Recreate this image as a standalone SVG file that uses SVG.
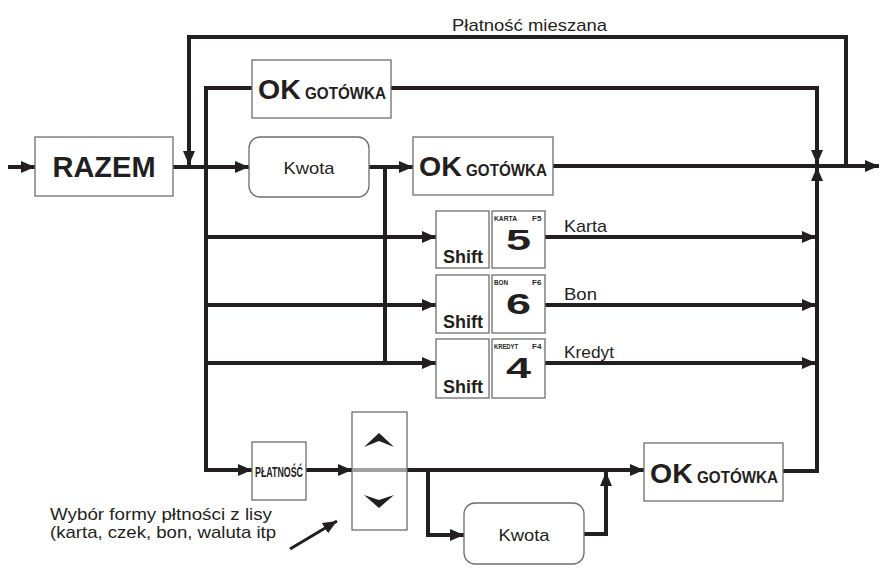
<svg xmlns="http://www.w3.org/2000/svg" width="880" height="571" viewBox="0 0 880 571">
<style>
.box{fill:#fff;stroke:#6d6d6d;stroke-width:1.3}
.ln{fill:none;stroke:#231f20;stroke-width:4}
.lnt{fill:none;stroke:#231f20;stroke-width:3}
.t{font-family:"Liberation Sans",Arial,sans-serif;fill:#231f20}
.b{font-weight:bold}
.ok{font-size:28.5px;font-weight:bold}
.gt{font-size:16.5px;font-weight:bold}
.sm{font-size:8px;font-weight:bold}
</style>
<defs>
<marker id="ah" viewBox="0 0 14 12" refX="14" refY="6" markerWidth="14" markerHeight="12" markerUnits="userSpaceOnUse" orient="auto">
<path d="M0,0 L14,6 L0,12 z" fill="#231f20"/>
</marker>
</defs>
<rect width="880" height="571" fill="#fff"/>
<g id="connectors">
<line class="ln" x1="8" y1="167" x2="35" y2="167" marker-end="url(#ah)"/>
<line class="ln" x1="173" y1="167" x2="249" y2="167" marker-end="url(#ah)"/>
<polyline class="ln" points="846,166 846,37 189,37 189,165" marker-end="url(#ah)"/>
<polyline class="ln" points="252,88 206,88 206,470 252,470" marker-end="url(#ah)"/>
<polyline class="ln" points="391,88 817,88 817,164" marker-end="url(#ah)"/>
<line class="ln" x1="369" y1="167" x2="413" y2="167" marker-end="url(#ah)"/>
<line class="ln" x1="553" y1="166" x2="879" y2="166" marker-end="url(#ah)"/>
<line class="ln" x1="385" y1="167" x2="385" y2="363"/>
<line class="ln" x1="206" y1="237" x2="436" y2="237" marker-end="url(#ah)"/>
<line class="ln" x1="206" y1="305" x2="436" y2="305" marker-end="url(#ah)"/>
<line class="ln" x1="206" y1="363" x2="436" y2="363" marker-end="url(#ah)"/>
<line class="ln" x1="545" y1="237" x2="816" y2="237" marker-end="url(#ah)"/>
<line class="ln" x1="545" y1="305" x2="816" y2="305" marker-end="url(#ah)"/>
<line class="ln" x1="545" y1="363" x2="816" y2="363" marker-end="url(#ah)"/>
<line class="ln" x1="306" y1="470" x2="352" y2="470" marker-end="url(#ah)"/>
<line class="ln" x1="407" y1="470" x2="644" y2="470" marker-end="url(#ah)"/>
<polyline class="ln" points="428,470 428,535 464,535" marker-end="url(#ah)"/>
<polyline class="ln" points="584,534 606,534 606,472" marker-end="url(#ah)"/>
<polyline class="ln" points="783,471 817,471 817,167" marker-end="url(#ah)"/>
<line class="lnt" x1="290" y1="549" x2="337" y2="521" marker-end="url(#ah)"/>
</g>
<g id="razem">
<rect class="box" x="35" y="137" width="138" height="59"/>
<text class="t b" x="104" y="177" font-size="29" text-anchor="middle">RAZEM</text>
</g>
<g id="ok1">
<rect class="box" x="252" y="60" width="139" height="58"/>
<text class="t ok" x="258" y="99">OK</text>
<text class="t gt" x="305" y="99" textLength="81" lengthAdjust="spacingAndGlyphs">GOTÓWKA</text>
</g>
<g id="kwota1">
<rect class="box" x="249" y="137" width="120" height="60" rx="11"/>
<text class="t" x="309" y="174" font-size="17" text-anchor="middle" textLength="51" lengthAdjust="spacingAndGlyphs">Kwota</text>
</g>
<g id="ok2">
<rect class="box" x="413" y="137" width="140" height="58"/>
<text class="t ok" x="419" y="176">OK</text>
<text class="t gt" x="466" y="176" textLength="81" lengthAdjust="spacingAndGlyphs">GOTÓWKA</text>
</g>
<g id="key-karta">
<rect class="box" x="436" y="211" width="53" height="57"/>
<text class="t b" x="463" y="263" font-size="18" text-anchor="middle">Shift</text>
<rect class="box" x="492" y="211" width="53" height="57"/>
<text class="t sm" x="494" y="221" textLength="23" lengthAdjust="spacingAndGlyphs">KARTA</text>
<text class="t sm" x="532" y="221">F5</text>
<text class="t b" x="518.5" y="250" font-size="30" text-anchor="middle" textLength="25" lengthAdjust="spacingAndGlyphs">5</text>
<text class="t" x="564" y="232" font-size="17" textLength="43" lengthAdjust="spacingAndGlyphs">Karta</text>
</g>
<g id="key-bon">
<rect class="box" x="436" y="275" width="53" height="58"/>
<text class="t b" x="463" y="328" font-size="18" text-anchor="middle">Shift</text>
<rect class="box" x="492" y="275" width="53" height="58"/>
<text class="t sm" x="494" y="285" textLength="14" lengthAdjust="spacingAndGlyphs">BON</text>
<text class="t sm" x="532" y="285">F6</text>
<text class="t b" x="518.5" y="314" font-size="30" text-anchor="middle" textLength="25" lengthAdjust="spacingAndGlyphs">6</text>
<text class="t" x="564" y="300" font-size="17" textLength="33" lengthAdjust="spacingAndGlyphs">Bon</text>
</g>
<g id="key-kredyt">
<rect class="box" x="436" y="339" width="53" height="59"/>
<text class="t b" x="463" y="393" font-size="18" text-anchor="middle">Shift</text>
<rect class="box" x="492" y="339" width="53" height="59"/>
<text class="t sm" x="494" y="349" textLength="24" lengthAdjust="spacingAndGlyphs">KREDYT</text>
<text class="t sm" x="532" y="349">F4</text>
<text class="t b" x="518.5" y="378" font-size="30" text-anchor="middle" textLength="25" lengthAdjust="spacingAndGlyphs">4</text>
<text class="t" x="564" y="358" font-size="17" textLength="50" lengthAdjust="spacingAndGlyphs">Kredyt</text>
</g>
<g id="platnosc">
<rect class="box" x="252" y="442" width="54" height="58"/>
<text class="t b" x="279" y="477" font-size="15" text-anchor="middle" textLength="48" lengthAdjust="spacingAndGlyphs">PŁATNOŚĆ</text>
</g>
<g id="arrows-key">
<rect class="box" x="352" y="412" width="55" height="57"/>
<rect class="box" x="352" y="471" width="55" height="59"/>
<path d="M364,447 L379,433 L394,447 L379,441 z" fill="#231f20"/>
<path d="M364,495 L379,500 L394,495 L379,508 z" fill="#231f20"/>
</g>
<g id="kwota2">
<rect class="box" x="464" y="503" width="120" height="61" rx="11"/>
<text class="t" x="524" y="541" font-size="17" text-anchor="middle" textLength="51" lengthAdjust="spacingAndGlyphs">Kwota</text>
</g>
<g id="ok3">
<rect class="box" x="644" y="443" width="139" height="58"/>
<text class="t ok" x="650" y="483">OK</text>
<text class="t gt" x="697" y="483" textLength="81" lengthAdjust="spacingAndGlyphs">GOTÓWKA</text>
</g>
<g id="labels">
<text class="t" x="452" y="31" font-size="17" textLength="155" lengthAdjust="spacingAndGlyphs">Płatność mieszana</text>
<text class="t" x="50" y="520" font-size="17" textLength="222" lengthAdjust="spacingAndGlyphs">Wybór formy płtności z lisy</text>
<text class="t" x="50" y="538" font-size="17" textLength="226" lengthAdjust="spacingAndGlyphs">(karta, czek, bon, waluta itp</text>
</g>
</svg>
